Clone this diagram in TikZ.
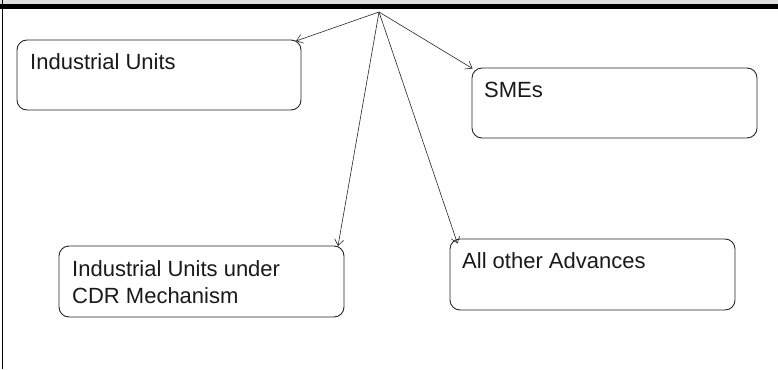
\documentclass[tikz,border=0pt]{standalone}
\usepackage{fontspec}
\setmainfont{Liberation Sans}
\usetikzlibrary{arrows.meta}
\begin{document}
\begin{tikzpicture}[x=1pt,y=-1pt,
  catbox/.style={draw=black!85, line width=0.9pt, rounded corners=10pt},
  lbl/.style={anchor=base west, inner sep=0pt, font=\fontsize{22}{27}\selectfont, align=left, text=black!90},
  conn/.style={draw=black!85, line width=0.6pt, -{Straight Barb[length=6pt,width=9pt,line width=0.6pt]}}]
\useasboundingbox (0,0) rectangle (778,369);
\fill[black!12] (0,0) rectangle (778,4.5);
\fill[black] (0,4.5) rectangle (778,9);
\draw[line width=1.3pt] (2.5,0) -- (2.5,369);
\coordinate (apex) at (379,12);
% boxes
\draw[catbox] (17,40) rectangle (301,110);
\coordinate (b1) at (296,41);
\node[lbl] (t1) at (30,69.5) {Industrial Units};
\draw[catbox] (472,68) rectangle (757,138);
\coordinate (b2) at (472.5,68.5);
\node[lbl] (t2) at (484,97.5) {SMEs};
\draw[catbox] (59,246) rectangle (344,317);
\coordinate (b3) at (338,246);
\node[lbl] (t3) at (72,276) {Industrial Units under};
\node[lbl] (t3b) at (72,303) {CDR Mechanism};
\draw[catbox] (450,239) rectangle (735,310);
\coordinate (b4) at (457.5,243.5);
\node[lbl] (t4) at (462,268.5) {All other Advances};
% connectors
\draw[conn] (apex) -- (b1);
\draw[conn] (apex) -- (b2);
\draw[conn] (apex) -- (b3);
\draw[conn] (apex) -- (b4);
\end{tikzpicture}
\end{document}
